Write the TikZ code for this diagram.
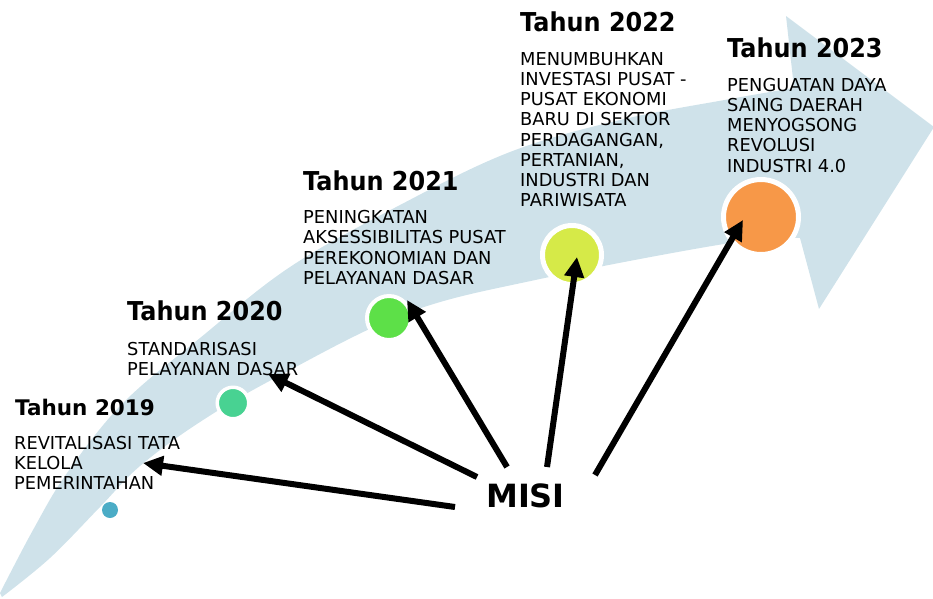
\documentclass[tikz,border=0pt]{standalone}
\usepackage{fontspec}
\setmainfont{DejaVu Sans}
\newfontfamily\headfont{DejaVu Sans}[FakeStretch=0.92]
\usetikzlibrary{arrows.meta}
\definecolor{bandcol}{RGB}{207,226,234}
\definecolor{dotblue}{RGB}{75,172,198}
\definecolor{dotteal}{RGB}{72,210,146}
\definecolor{dotgreen}{RGB}{93,224,72}
\definecolor{dotyellow}{RGB}{214,234,72}
\definecolor{dotorange}{RGB}{247,152,72}
\tikzset{
  heading/.style={anchor=base west, inner sep=0, font=\headfont\bfseries\fontsize{26}{30}\selectfont},
  bodytext/.style={anchor=north west, inner sep=0, align=left, font=\fontsize{17.8}{20.25}\selectfont},
  dotring/.style={circle, inner sep=0, outer sep=0, draw=white},
  misiarrow/.style={line width=6pt, -{Triangle[length=20pt,width=19pt]}},
}
\begin{document}
\begin{tikzpicture}[x=1pt,y=-1pt]
\useasboundingbox (0,0) rectangle (933,598);
% the swoosh arrow
\fill[bandcol] plot[smooth, tension=0.6] coordinates {(2,597) (50,558) (100,507) (140,466) (200,422) (277,377) (407,313) (540,279) (730,243) (800,238)}
  -- (819,309) -- (934,127) -- (786,16) -- (794,88)
  -- plot[smooth, tension=0.6] coordinates {(794,88) (730,99) (620,120) (510,152) (400,205) (290,267) (200,338) (123,403) (67,473) (33,530) (0,593)} -- cycle;
% dots
\node[circle, inner sep=0, fill=dotblue, minimum size=16pt] (c2019) at (110,510) {};
\node[dotring, fill=dotteal, line width=3.5pt, minimum size=31.5pt] (c2020) at (233,403) {};
\node[dotring, fill=dotgreen, line width=4pt, minimum size=44pt] (c2021) at (389,318) {};
\node[dotring, fill=dotyellow, line width=5pt, minimum size=59pt] (c2022) at (572,255) {};
\node[dotring, fill=dotorange, line width=5pt, minimum size=75pt] (c2023) at (761,217) {};
% headings
\node[heading, font=\bfseries\fontsize{21.5}{25}\selectfont] (h2019) at (15,415) {Tahun 2019};
\node[heading] (h2020) at (127,320.7) {Tahun 2020};
\node[heading] (h2021) at (303,190.7) {Tahun 2021};
\node[heading] (h2022) at (520,31.7) {Tahun 2022};
\node[heading] (h2023) at (727,57.3) {Tahun 2023};
% bodies (top = first baseline - cap height)
\node[bodytext] (b2019) at (14,436) {REVITALISASI TATA\\KELOLA\\PEMERINTAHAN};
\node[bodytext] (b2020) at (127,342) {STANDARISASI\\PELAYANAN DASAR};
\node[bodytext] (b2021) at (303,210.3) {PENINGKATAN\\AKSESSIBILITAS PUSAT\\PEREKONOMIAN DAN\\PELAYANAN DASAR};
\node[bodytext] (b2022) at (520,52) {MENUMBUHKAN\\INVESTASI PUSAT -\\PUSAT EKONOMI\\BARU DI SEKTOR\\PERDAGANGAN,\\PERTANIAN,\\INDUSTRI DAN\\PARIWISATA};
\node[bodytext] (b2023) at (727,77.7) {PENGUATAN DAYA\\SAING DAERAH\\MENYOGSONG\\REVOLUSI\\INDUSTRI 4.0};
% MISI
\node[anchor=base west, inner sep=0, font=\bfseries\fontsize{32}{38}\selectfont] (misi) at (486,507) {MISI};
% arrow ends
\coordinate (m1) at (455,507);
\coordinate (m2) at (477,477);
\coordinate (m3) at (507,467);
\coordinate (m4) at (547,467);
\coordinate (m5) at (595,475);
\coordinate (t1) at (143,463);
\coordinate (t2) at (268,374);
\coordinate (t3) at (407,300);
\coordinate (t4) at (577,257);
\coordinate (t5) at (743,220);
\draw[misiarrow] (m1) -- (t1);
\draw[misiarrow] (m2) -- (t2);
\draw[misiarrow] (m3) -- (t3);
\draw[misiarrow] (m4) -- (t4);
\draw[misiarrow] (m5) -- (t5);
\end{tikzpicture}
\end{document}
